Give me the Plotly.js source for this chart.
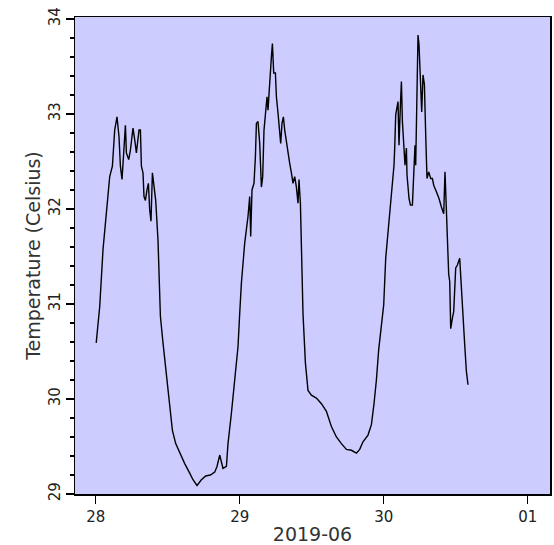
<!DOCTYPE html>
<html>
<head>
<meta charset="utf-8">
<script src="https://cdn.plot.ly/plotly-3.0.1.min.js"></script>
<style>html,body{margin:0;padding:0;background:#fff;}#chart{width:554px;height:545px;}</style>
</head>
<body>
<div id="chart"></div>
<script>
// Timestamps (2019-06) and temperatures (Celsius)
const times = [
  "2019-06-28 00:05","2019-06-28 00:40","2019-06-28 01:13","2019-06-28 01:47","2019-06-28 02:20",
  "2019-06-28 02:47","2019-06-28 02:53","2019-06-28 03:10","2019-06-28 03:33","2019-06-28 03:53",
  "2019-06-28 04:07","2019-06-28 04:23","2019-06-28 04:40","2019-06-28 04:57","2019-06-28 05:07",
  "2019-06-28 05:30","2019-06-28 05:47","2019-06-28 06:03","2019-06-28 06:13","2019-06-28 06:30",
  "2019-06-28 06:47","2019-06-28 07:13","2019-06-28 07:27","2019-06-28 07:37","2019-06-28 07:53",
  "2019-06-28 08:03","2019-06-28 08:17","2019-06-28 08:33","2019-06-28 08:47","2019-06-28 09:00",
  "2019-06-28 09:13","2019-06-28 09:27","2019-06-28 09:43","2019-06-28 10:00","2019-06-28 10:23",
  "2019-06-28 10:33","2019-06-28 10:47","2019-06-28 11:13","2019-06-28 11:40","2019-06-28 12:03",
  "2019-06-28 12:20","2019-06-28 12:47","2019-06-28 13:20","2019-06-28 14:00","2019-06-28 14:50",
  "2019-06-28 15:40","2019-06-28 16:13","2019-06-28 16:53","2019-06-28 17:37","2019-06-28 18:20",
  "2019-06-28 19:07","2019-06-28 19:50","2019-06-28 20:13","2019-06-28 20:40","2019-06-28 20:57",
  "2019-06-28 21:13","2019-06-28 21:47","2019-06-28 22:03","2019-06-28 22:37","2019-06-28 23:10",
  "2019-06-28 23:43",
  "2019-06-29 00:00","2019-06-29 00:17","2019-06-29 00:50","2019-06-29 01:23","2019-06-29 01:40",
  "2019-06-29 01:50","2019-06-29 02:03","2019-06-29 02:23","2019-06-29 02:37","2019-06-29 02:47",
  "2019-06-29 03:03","2019-06-29 03:20","2019-06-29 03:37","2019-06-29 03:50","2019-06-29 04:03",
  "2019-06-29 04:20","2019-06-29 04:33","2019-06-29 04:43","2019-06-29 04:53","2019-06-29 05:03",
  "2019-06-29 05:17","2019-06-29 05:27","2019-06-29 05:40","2019-06-29 05:57","2019-06-29 06:07",
  "2019-06-29 06:23","2019-06-29 06:40","2019-06-29 06:50","2019-06-29 07:03","2019-06-29 07:17",
  "2019-06-29 07:30","2019-06-29 07:47","2019-06-29 08:03","2019-06-29 08:20","2019-06-29 08:37",
  "2019-06-29 08:53","2019-06-29 09:10","2019-06-29 09:27","2019-06-29 09:43","2019-06-29 09:53",
  "2019-06-29 10:07","2019-06-29 10:17","2019-06-29 10:33","2019-06-29 10:57","2019-06-29 11:23",
  "2019-06-29 11:57","2019-06-29 12:47","2019-06-29 13:37","2019-06-29 14:27","2019-06-29 15:17",
  "2019-06-29 16:07","2019-06-29 16:57","2019-06-29 17:47","2019-06-29 18:37","2019-06-29 19:27",
  "2019-06-29 20:00","2019-06-29 20:33","2019-06-29 21:23","2019-06-29 21:57","2019-06-29 22:23",
  "2019-06-29 22:47","2019-06-29 23:10","2019-06-29 23:37",
  "2019-06-30 00:00","2019-06-30 00:20","2019-06-30 00:43","2019-06-30 01:00","2019-06-30 01:17",
  "2019-06-30 01:33","2019-06-30 01:43","2019-06-30 01:50","2019-06-30 02:00","2019-06-30 02:23",
  "2019-06-30 02:33","2019-06-30 02:47","2019-06-30 02:57","2019-06-30 03:07","2019-06-30 03:20",
  "2019-06-30 03:33","2019-06-30 03:47","2019-06-30 03:53","2019-06-30 04:13","2019-06-30 04:27",
  "2019-06-30 04:47","2019-06-30 05:03","2019-06-30 05:13","2019-06-30 05:20","2019-06-30 05:33",
  "2019-06-30 05:43","2019-06-30 05:53","2019-06-30 06:07","2019-06-30 06:20","2019-06-30 06:33",
  "2019-06-30 06:47","2019-06-30 07:00","2019-06-30 07:13","2019-06-30 07:30","2019-06-30 07:50",
  "2019-06-30 08:07","2019-06-30 08:20","2019-06-30 08:47","2019-06-30 09:13","2019-06-30 09:37",
  "2019-06-30 10:00","2019-06-30 10:13","2019-06-30 10:27","2019-06-30 10:37","2019-06-30 10:50",
  "2019-06-30 11:00","2019-06-30 11:10","2019-06-30 11:27","2019-06-30 11:40","2019-06-30 12:00",
  "2019-06-30 12:17","2019-06-30 12:40","2019-06-30 12:50","2019-06-30 13:07","2019-06-30 13:30",
  "2019-06-30 13:47","2019-06-30 14:03"
];
const temps = [
  30.59,30.97,31.57,31.99,32.34,
  32.45,32.59,32.83,32.97,32.76,
  32.45,32.31,32.59,32.88,32.59,
  32.52,32.62,32.76,32.85,32.73,
  32.59,32.83,32.83,32.45,32.38,
  32.13,32.09,32.20,32.27,31.99,
  31.87,32.38,32.23,32.09,31.67,
  31.29,30.87,30.59,30.34,30.06,
  29.92,29.67,29.53,29.43,29.32,
  29.22,29.15,29.09,29.15,29.19,
  29.20,29.23,29.29,29.41,29.34,
  29.27,29.29,29.53,29.85,30.20,
  30.55,
  30.90,31.22,31.64,31.92,32.13,
  31.71,32.20,32.27,32.55,32.90,
  32.92,32.69,32.23,32.34,32.83,
  33.01,33.18,33.04,33.25,33.32,
  33.60,33.74,33.43,33.43,33.18,
  33.01,32.83,32.69,32.90,32.97,
  32.83,32.69,32.62,32.48,32.38,
  32.27,32.34,32.23,32.06,32.31,
  32.06,31.64,30.90,30.38,30.09,
  30.04,30.01,29.95,29.87,29.71,
  29.60,29.53,29.47,29.46,29.43,
  29.47,29.55,29.62,29.73,29.95,
  30.20,30.52,30.80,
  30.99,31.48,31.76,31.97,32.18,
  32.39,32.46,32.64,32.99,33.13,
  32.67,33.09,33.34,32.92,32.60,
  32.46,32.64,32.36,32.11,32.04,
  32.04,32.53,32.67,32.46,33.06,
  33.83,33.73,33.31,33.02,33.41,
  33.31,32.78,32.32,32.39,32.32,
  32.32,32.25,32.18,32.11,32.02,
  31.95,32.39,31.94,31.55,31.31,
  31.24,30.74,30.85,30.92,31.38,
  31.41,31.48,31.27,30.92,30.57,
  30.29,30.15
];
const xTickVals = ["2019-06-28","2019-06-29","2019-06-30","2019-07-01"];
const xTickText = ["28","29","30","01"];
const xTitle = "2019-06";
const yTitle = "Temperature (Celsius)";

const trace = {
  x: times, y: temps, type: "scatter", mode: "lines",
  line: {color: "#000000", width: 1.4}, hoverinfo: "x+y"
};

const font = {family: "DejaVu Sans, sans-serif", color: "#222222"};
const layout = {
  width: 554, height: 545,
  margin: {l: 75, r: 4, t: 17, b: 51, pad: 0},
  paper_bgcolor: "#ffffff",
  plot_bgcolor: "#ccccff",
  showlegend: false,
  font: font,
  xaxis: {
    type: "date",
    range: ["2019-06-27 20:33", "2019-07-01 03:43"],
    tickmode: "array", tickvals: xTickVals, ticktext: xTickText,
    ticks: "outside", ticklen: 8, tickwidth: 1.5, tickcolor: "#000",
    tickfont: {family: "DejaVu Sans, sans-serif", size: 15, color: "#222"},
    showline: true, mirror: true, linecolor: "#000", linewidth: 1.5,
    showgrid: false, zeroline: false, automargin: false,
    title: {text: xTitle, font: {family: "DejaVu Sans, sans-serif", size: 19, color: "#333"}, standoff: 6}
  },
  yaxis: {
    range: [29, 34.02],
    tickmode: "linear", tick0: 29, dtick: 1,
    ticks: "outside", ticklen: 8, tickwidth: 1.5, tickcolor: "#000",
    tickangle: -90,
    tickfont: {family: "DejaVu Sans, sans-serif", size: 15, color: "#222"},
    minor: {ticks: "outside", dtick: 0.2, ticklen: 4, tickwidth: 1.5, tickcolor: "#000", showgrid: false},
    showline: true, mirror: true, linecolor: "#000", linewidth: 1.5,
    showgrid: false, zeroline: false, automargin: false,
    title: {text: yTitle, font: {family: "DejaVu Sans, sans-serif", size: 19, color: "#333"}, standoff: 0}
  }
};

Plotly.newPlot("chart", [trace], layout, {staticPlot: true, displayModeBar: false});
</script>
</body>
</html>
